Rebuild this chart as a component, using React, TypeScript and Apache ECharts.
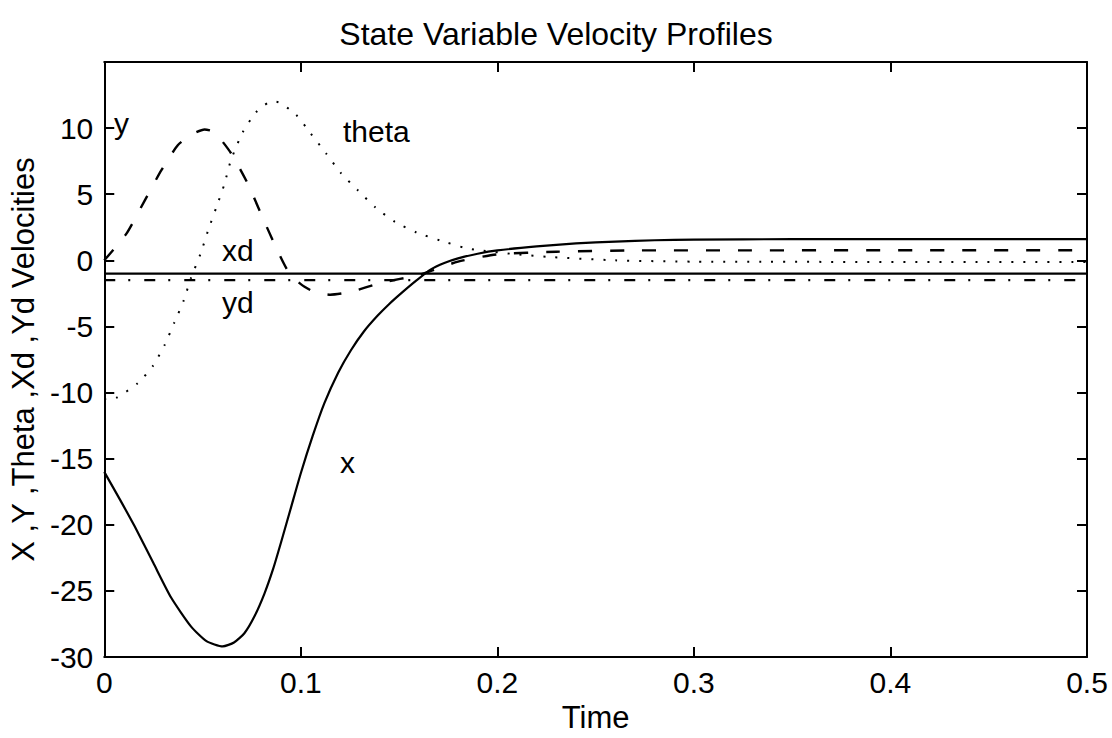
import React, { useEffect, useRef } from "react";
import * as echarts from "echarts";

// Time samples and values (t, value)
const xVel: [number, number][] = [
  [0, -16.0], [0.008, -18.1], [0.0154, -20.1], [0.025, -22.9], [0.034, -25.5],
  [0.0442, -27.7], [0.052, -28.8], [0.0603, -29.2], [0.066, -28.9], [0.0713, -28.2],
  [0.0765, -26.9], [0.0815, -25.2], [0.086, -23.3], [0.09, -21.3], [0.095, -18.7],
  [0.1, -16.1], [0.106, -13.3], [0.112, -10.8], [0.119, -8.5], [0.1255, -6.8],
  [0.132, -5.4], [0.139, -4.2], [0.145, -3.3], [0.151, -2.5], [0.159, -1.5],
  [0.166, -0.7], [0.173, -0.2], [0.18, 0.15], [0.19, 0.5], [0.2, 0.75],
  [0.22, 1.05], [0.24, 1.28], [0.26, 1.42], [0.28, 1.52], [0.3, 1.57],
  [0.35, 1.6], [0.5, 1.6],
];
const yVel: [number, number][] = [
  [0, 0], [0.0112, 2.0], [0.0205, 4.5], [0.029, 6.8], [0.0374, 8.7], [0.0442, 9.5],
  [0.051, 9.9], [0.056, 9.7], [0.0645, 8.1], [0.073, 5.8], [0.0798, 3.5],
  [0.0865, 1.26], [0.0933, -0.76], [0.1, -1.8], [0.107, -2.4], [0.115, -2.6],
  [0.125, -2.4], [0.141, -1.7], [0.16, -1.1], [0.18, -0.1], [0.2, 0.45],
  [0.23, 0.65], [0.27, 0.75], [0.5, 0.76],
];
const thetaVel: [number, number][] = [
  [0, -10.5], [0.006, -10.4], [0.017, -9.3], [0.0247, -8.0], [0.0307, -6.4],
  [0.0357, -4.7], [0.0405, -3.0], [0.0442, -1.3], [0.049, 0.5], [0.0527, 2.2],
  [0.057, 4.0], [0.061, 5.7], [0.0645, 7.6], [0.0705, 9.7], [0.0772, 11.2],
  [0.0832, 11.9], [0.0874, 12.0], [0.0976, 11.0], [0.105, 9.6], [0.1128, 8.1],
  [0.1204, 6.6], [0.129, 5.3], [0.138, 4.0], [0.148, 2.9], [0.159, 2.1],
  [0.171, 1.5], [0.183, 0.96], [0.189, 0.8], [0.21, 0.45], [0.227, 0.25],
  [0.26, 0.0], [0.3, -0.1], [0.5, -0.13],
];
const xdVel: [number, number][] = [[0, -1.0], [0.5, -1.0]];
const ydVel: [number, number][] = [[0, -1.5], [0.5, -1.5]];

const xTicks = ["0", "0.1", "0.2", "0.3", "0.4", "0.5"];
const yTicks = [-30, -25, -20, -15, -10, -5, 0, 5, 10];

const FONT = "'Liberation Sans', Arial, Helvetica, sans-serif";

export default function App() {
  const ref = useRef<HTMLDivElement>(null);
  useEffect(() => {
    if (!ref.current) return;
    const chart = echarts.init(ref.current, null, { renderer: "svg" });
    const axisLine = { show: true, onZero: false, lineStyle: { color: "#000", width: 2 } };
    const tick = { show: true, inside: true, length: 10, lineStyle: { color: "#000", width: 2 } };
    const label = { color: "#000", fontSize: 30, fontFamily: FONT };
    const lbl = (text: string, x: number, y: number) => ({
      type: "text",
      x,
      y,
      style: { text, fill: "#000", font: `30px ${FONT}`, textAlign: "left", textVerticalAlign: "middle" },
    });
    const lineBase = { type: "line", showSymbol: false, smooth: 0.2 };
    chart.setOption({
      animation: false,
      backgroundColor: "#fff",
      title: {
        text: "State Variable Velocity Profiles",
        left: "center",
        top: 13,
        textStyle: { color: "#000", fontSize: 32, fontWeight: "normal", fontFamily: FONT },
      },
      grid: { left: 103, right: 25, top: 62, bottom: 81 },
      xAxis: [
        {
          type: "value",
          min: 0,
          max: 0.5,
          interval: 0.1,
          name: "Time",
          nameLocation: "middle",
          nameGap: 44,
          nameTextStyle: { color: "#000", fontSize: 31, fontFamily: FONT },
          axisLine,
          axisTick: tick,
          axisLabel: {
            ...label,
            margin: 10,
            formatter: (v: number) => xTicks[Math.round(v * 10)] ?? "",
          },
          splitLine: { show: false },
        },
        {
          type: "value",
          position: "top",
          min: 0,
          max: 0.5,
          interval: 0.1,
          axisLine,
          axisTick: tick,
          axisLabel: { show: false },
          splitLine: { show: false },
        },
      ],
      yAxis: [
        {
          type: "value",
          min: -30,
          max: 15,
          interval: 5,
          name: "X ,Y ,Theta ,Xd ,Yd Velocities",
          nameLocation: "middle",
          nameGap: 60,
          nameTextStyle: { color: "#000", fontSize: 31, fontFamily: FONT },
          axisLine,
          axisTick: tick,
          axisLabel: {
            ...label,
            margin: 11,
            formatter: (v: number) => (yTicks.includes(v) ? String(v) : ""),
          },
          splitLine: { show: false },
        },
        {
          type: "value",
          position: "right",
          min: -30,
          max: 15,
          interval: 5,
          axisLine,
          axisTick: tick,
          axisLabel: { show: false },
          splitLine: { show: false },
        },
      ],
      series: [
        { ...lineBase, name: "x", data: xVel, lineStyle: { color: "#000", width: 2.2 } },
        { ...lineBase, name: "y", data: yVel, lineStyle: { color: "#000", width: 2.4, type: [14, 18] } },
        { ...lineBase, name: "theta", data: thetaVel, lineStyle: { color: "#000", width: 2, type: [2, 10] } },
        { type: "line", showSymbol: false, name: "xd", data: xdVel, lineStyle: { color: "#000", width: 2.2 } },
        {
          type: "line",
          showSymbol: false,
          name: "yd",
          data: ydVel,
          lineStyle: { color: "#000", width: 2.2, type: [11, 13, 2, 14] },
        },
      ],
      graphic: [
        lbl("y", 114, 123),
        lbl("theta", 343, 131),
        lbl("xd", 222, 250),
        lbl("yd", 222, 302),
        lbl("x", 340, 462),
      ],
    });
    return () => chart.dispose();
  }, []);
  return <div ref={ref} style={{ width: 1112, height: 738, position: "absolute", left: 0, top: 0 }} />;
}
